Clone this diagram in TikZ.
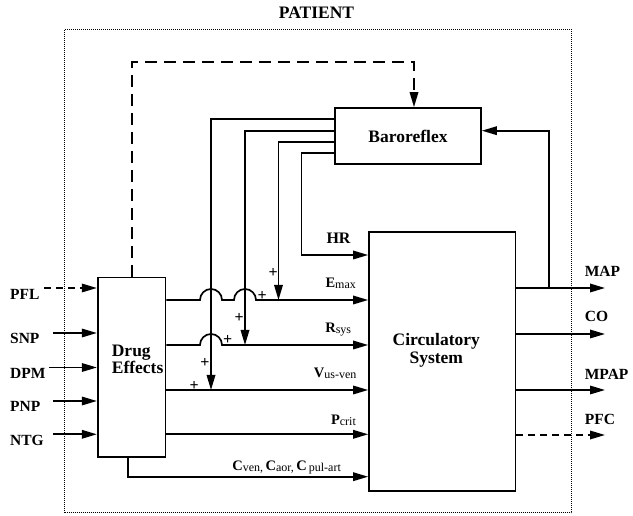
\documentclass[tikz,border=0pt]{standalone}
\usepackage{fontspec}
\setmainfont{Liberation Serif}
\usetikzlibrary{arrows.meta}
\newcommand\sigl[2]{{\fontsize{14.5}{16}\selectfont\bfseries #1}{\fontsize{12}{14}\selectfont\raisebox{-1pt}{#2}}}
\begin{document}
\begin{tikzpicture}[x=1pt,y=-1pt,
  line width=1.7pt,
  arr/.style={-{Triangle[length=15pt,width=8.5pt]}},
  lbl/.style={font=\fontsize{15.5}{16}\selectfont\bfseries, inner sep=0pt, anchor=base west},
  sig/.style={inner sep=0pt, anchor=base east},
  blk/.style={draw, rectangle, inner sep=0pt, line width=1.7pt},
  big/.style={font=\fontsize{17.5}{17.5}\selectfont\bfseries, inner sep=0pt},
  plus/.style={font=\fontsize{16}{16}\selectfont\bfseries, inner sep=0pt},
  bigdash/.style={dash pattern=on 12pt off 7pt},
  smalldash/.style={dash pattern=on 7pt off 5pt},
]
\useasboundingbox (0,0) rectangle (633,516);

% frame and title
\node[draw, dash pattern=on 1pt off 1pt, line width=0.9pt, minimum width=507pt, minimum height=483.4pt, inner sep=0pt] (frame) at (318.1,271) {};
\node[big, anchor=base] (title) at (316.5,18.3) {PATIENT};

% blocks
\node[blk, big, minimum width=146pt, minimum height=56pt] (baro) at (408,136) {Baroreflex};
\node[blk, minimum width=146.5pt, minimum height=259pt] (circ) at (442.25,361.5) {};
\node[big, align=center] (circtext) at (436.3,350.5) {Circulatory\\System};
\node[blk, minimum width=67.8pt, minimum height=179.8pt] (drug) at (131.6,367.4) {};
\node[big, align=left, anchor=west] (drugtext) at (111,359.3) {Drug\\Effects};

% input coordinates
\coordinate (pfl0) at (44,288);
\coordinate (snp0) at (53,333);
\coordinate (dpm0) at (49,367.5);
\coordinate (pnp0) at (53,401);
\coordinate (ntg0) at (53,434.3);

\node[lbl] (pfl) at (9.3,299.3) {PFL};
\node[lbl] (snp) at (9.3,344) {SNP};
\node[lbl] (dpm) at (9.3,378.3) {DPM};
\node[lbl] (pnp) at (9.3,411.7) {PNP};
\node[lbl] (ntg) at (9.3,445) {NTG};

\draw[arr, smalldash] (pfl0) -- (pfl0 -| drug.west);
\draw[arr] (snp0) -- (snp0 -| drug.west);
\draw[arr] (dpm0) -- (dpm0 -| drug.west);
\draw[arr] (pnp0) -- (pnp0 -| drug.west);
\draw[arr] (ntg0) -- (ntg0 -| drug.west);

% output coordinates
\coordinate (map1) at (605,288);
\coordinate (co1) at (605,334);
\coordinate (mpap1) at (605,390);
\coordinate (pfc1) at (605,435);
\coordinate (fb) at (549,288);

\draw[arr] (map1 -| circ.east) -- (map1);
\draw[arr] (co1 -| circ.east) -- (co1);
\draw[arr] (mpap1 -| circ.east) -- (mpap1);
\draw[arr, smalldash] (pfc1 -| circ.east) -- (pfc1);

\node[lbl] (map) at (584,276.7) {MAP};
\node[lbl] (co) at (584,321.7) {CO};
\node[lbl] (mpap) at (584,379) {MPAP};
\node[lbl] (pfc) at (584,424.3) {PFC};

% feedback to baroreflex
\draw[arr] (fb) -- (549,130.7) -- (baro.east |- 0,130.7);

% dashed drug -> baroreflex
\draw[arr, bigdash] (drug.north -| 132,0) -- (132,62) -- (414,62) -- (baro.north -| 414,0);

% drug -> circulatory signals
\coordinate (emaxj) at (278.5,300);
\coordinate (rsysj) at (245,345);
\coordinate (vusj) at (211,390);

\draw[arr] (drug.east |- 0,300) -- (200,300) arc[start angle=180, end angle=0, radius=11pt]
   -- (234,300) arc[start angle=180, end angle=0, radius=11pt] -- (circ.west |- 0,300);
\draw[arr] (drug.east |- 0,345) -- (200,345) arc[start angle=180, end angle=0, radius=11pt]
   -- (circ.west |- 0,345);
\draw[arr] (drug.east |- 0,390) -- (circ.west |- 0,390);
\draw[arr] (drug.east |- 0,434.3) -- (circ.west |- 0,434.3);
\draw[arr] (drug.south -| 128,0) -- (128,476.7) -- (circ.west |- 0,476.7);

% baroreflex outputs
\draw[arr] (baro.west |- 0,119.3) -- (211,119.3) -- (vusj);
\draw[arr] (baro.west |- 0,130.7) -- (245,130.7) -- (rsysj);
\draw[arr] (baro.west |- 0,142) -- (278.5,142) -- (emaxj);
\draw[arr] (baro.west |- 0,153) -- (301.6,153) -- (301.6,255) -- (circ.west |- 0,255);

% signal labels
\node[lbl] (hr) at (325.7,243.3) {\fontsize{16}{16}\selectfont HR};
\node[sig] (emax) at (356.7,287.3) {\sigl{E}{max}};
\node[sig] (rsys) at (352,332.7) {\sigl{R}{sys}};
\node[sig] (vus) at (357.3,377.3) {\sigl{V}{us-ven}};
\node[sig] (pcrit) at (356.7,424.5) {\sigl{P}{crit}};
\node[sig] (cs) at (341.7,470.5) {\sigl{C}{ven,} \sigl{C}{aor,} \sigl{C}{\,pul-art}};

% plus signs
\node[plus] (p1) at (273.3,273.3) {+};
\node[plus] (p2) at (262.3,295.7) {+};
\node[plus] (p3) at (239.3,318.3) {+};
\node[plus] (p4) at (227.7,340) {+};
\node[plus] (p5) at (205,363.3) {+};
\node[plus] (p6) at (194.3,386) {+};
\end{tikzpicture}
\end{document}
